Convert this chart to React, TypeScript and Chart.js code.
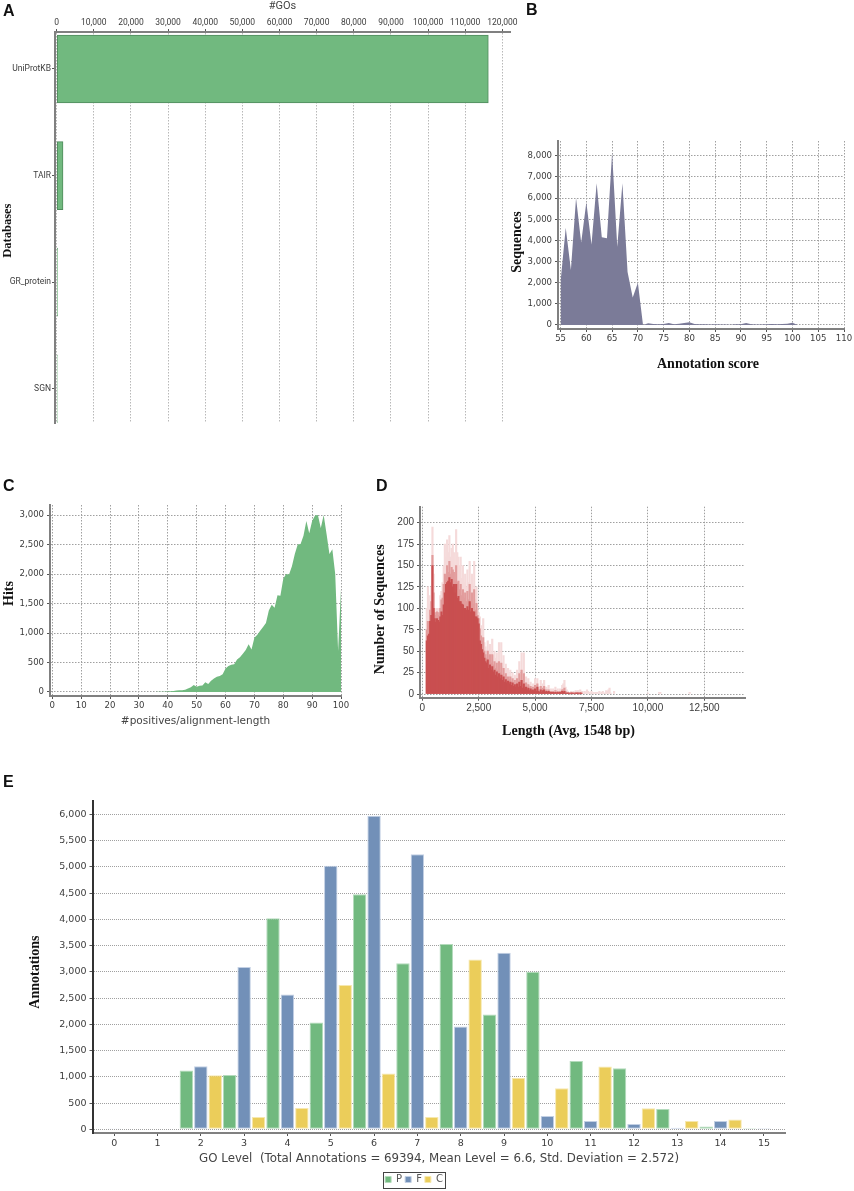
import { useEffect, useRef } from "react"
import { Chart, registerables } from "chart.js"

Chart.register(...registerables)

// Panel A
const databases = ["UniProtKB", "TAIR", "GR_protein", "SGN"]
const databaseGos = [116230, 1700, 220, 160]
const goTicks = [0, 10000, 20000, 30000, 40000, 50000, 60000, 70000, 80000, 90000, 100000, 110000, 120000]

// Panel B
const annotationScores = [55, 56, 57, 58, 59, 60, 61, 62, 63, 64, 65, 66, 67, 68, 69, 70, 71, 72, 73, 74, 75, 76, 77, 78, 79, 80, 81, 82, 83, 84, 85, 86, 87, 88, 89, 90, 91, 92, 93, 94, 95, 96, 97, 98, 99, 100, 101]
const scoreSequences = [2050, 4600, 2600, 6000, 3900, 5800, 3800, 6700, 4150, 4100, 8150, 3700, 6700, 2500, 1300, 2000, 0, 80, 50, 30, 50, 90, 30, 60, 90, 130, 50, 30, 30, 25, 30, 20, 20, 15, 30, 40, 90, 30, 20, 20, 30, 50, 30, 50, 60, 110, 0]
const scoreTicks = [55, 60, 65, 70, 75, 80, 85, 90, 95, 100, 105, 110]
const sequenceTicks = [0, 1000, 2000, 3000, 4000, 5000, 6000, 7000, 8000]

// Panel C
const positives = [36, 38, 40, 41, 42, 43, 44, 45, 46, 47, 48, 49, 50, 51, 52, 53, 54, 55, 56, 57, 58, 59, 60, 61, 62, 63, 64, 65, 66, 67, 68, 69, 70, 71, 72, 73, 74, 75, 76, 77, 78, 79, 80, 81, 82, 83, 84, 85, 86, 87, 88, 89, 90, 91, 92, 93, 94, 95, 96, 97, 98, 99, 100]
const hits = [2, 3, 8, 12, 15, 25, 30, 30, 40, 60, 80, 120, 90, 105, 110, 165, 135, 190, 230, 260, 270, 300, 400, 440, 460, 470, 550, 590, 650, 710, 810, 720, 920, 970, 1040, 1100, 1170, 1380, 1480, 1430, 1640, 1630, 1920, 2000, 1990, 2130, 2340, 2500, 2510, 2650, 2900, 2690, 2900, 2990, 3000, 2780, 3000, 2680, 2340, 2420, 2000, 700, 1750]
const positiveTicks = [0, 10, 20, 30, 40, 50, 60, 70, 80, 90, 100]
const hitTicks = [0, 500, 1000, 1500, 2000, 2500, 3000]

// Panel D: solid body, its fuzzy edge and the faint spikes above it
const lengthBins = [200, 250, 300, 350, 400, 450, 500, 550, 600, 650, 700, 750, 800, 850, 900, 950, 1000, 1050, 1100, 1150, 1200, 1250, 1300, 1350, 1400, 1450, 1500, 1550, 1600, 1650, 1700, 1750, 1800, 1850, 1900, 1950, 2000, 2050, 2100, 2150, 2200, 2250, 2300, 2350, 2400, 2450, 2500,
  2550, 2600, 2650, 2700, 2750, 2800, 2850, 2900, 2950, 3000, 3050, 3100, 3150, 3200, 3250, 3300, 3350, 3400, 3450, 3500, 3550, 3600, 3650, 3700, 3750, 3800, 3850, 3900, 3950, 4000, 4050, 4100, 4150, 4200, 4250, 4300, 4350, 4400, 4450, 4500, 4550, 4600, 4650, 4700, 4750, 4800, 4850, 4900, 4950, 5000,
  5050, 5100, 5150, 5200, 5250, 5300, 5350, 5400, 5450, 5500, 5550, 5600, 5650, 5700, 5750, 5800, 5850, 5900, 5950, 6000, 6050, 6100, 6150, 6200, 6250, 6300, 6350, 6400, 6450, 6500, 6550, 6600, 6650, 6700, 6750, 6800, 6850, 6900, 6950, 7000, 7050]
const lengthCore = [62, 68, 70, 85, 92, 150, 100, 88, 84, 88, 86, 84, 90, 96, 92, 104, 118, 128, 130, 132, 136, 130, 134, 125, 128, 118, 128, 112, 114, 108, 108, 105, 104, 100, 100, 98, 102, 98, 108, 96, 100, 96, 96, 90, 90, 88, 82,
  62, 58, 52, 48, 42, 38, 36, 40, 30, 34, 28, 32, 26, 28, 22, 26, 20, 24, 18, 22, 16, 20, 14, 17, 13, 15, 12, 14, 10, 13, 9, 11, 8, 12, 8, 14, 9, 16, 7, 12, 6, 8, 5, 7, 4, 6, 4, 5, 3, 6,
  3, 8, 3, 2, 5, 2, 4, 5, 2, 3, 2, 3, 2, 2, 1, 2, 1, 2, 1, 2, 1, 2, 1, 3, 2, 3, 1, 1, 1, 1, 0, 1, 1, 1, 0, 1, 1, 1, 0, 1, 1]
const lengthEdge = [75, 85, 80, 98, 108, 162, 118, 95, 92, 96, 92, 95, 100, 110, 112, 128, 140, 138, 150, 142, 155, 140, 148, 145, 142, 132, 150, 130, 132, 122, 128, 115, 122, 112, 118, 108, 120, 110, 128, 106, 118, 105, 122, 98, 106, 92, 88,
  76, 68, 62, 66, 50, 46, 42, 50, 38, 46, 36, 46, 34, 38, 30, 36, 28, 38, 25, 36, 22, 30, 20, 24, 19, 20, 17, 20, 14, 18, 13, 16, 12, 18, 12, 24, 14, 28, 10, 24, 9, 13, 8, 11, 6, 9, 6, 8, 5, 10,
  5, 12, 5, 3, 9, 3, 7, 9, 3, 5, 3, 5, 3, 3, 2, 3, 2, 4, 2, 3, 2, 3, 2, 5, 5, 7, 3, 2, 2, 1, 1, 2, 1, 1, 1, 2, 1, 2, 1, 2, 1]
const peakBins = [...lengthBins, 7100, 7150, 7200, 7250, 7300, 7350, 7400, 7450, 7500, 7550, 7600, 7650, 7700, 7750, 7800, 7850, 7900, 7950, 8000, 8050, 8100, 8150, 8200, 8250, 8300, 8350, 8500, 10000, 10500, 10550, 11850]
const lengthPeaks = [100, 125, 105, 115, 125, 195, 140, 100, 95, 100, 95, 100, 115, 120, 130, 150, 175, 160, 180, 165, 185, 160, 170, 175, 165, 150, 192, 165, 160, 150, 160, 135, 150, 130, 140, 125, 145, 130, 155, 125, 140, 120, 155, 110, 125, 100, 95,
  90, 80, 75, 88, 60, 55, 50, 62, 45, 58, 48, 64, 45, 50, 42, 48, 38, 60, 35, 60, 32, 45, 30, 35, 28, 30, 24, 28, 20, 25, 18, 22, 20, 28, 18, 38, 22, 48, 15, 48, 14, 20, 12, 18, 10, 14, 8, 12, 8, 18,
  10, 18, 8, 6, 16, 6, 12, 16, 6, 8, 6, 10, 5, 6, 4, 6, 4, 8, 4, 6, 3, 6, 4, 10, 12, 16, 8, 5, 3, 2, 2, 3, 2, 3, 2, 4, 3, 4, 2, 5, 3,
  3, 1, 3, 2, 5, 3, 2, 1, 3, 1, 2, 1, 2, 2, 1, 3, 1, 2, 3, 1, 1, 4, 3, 5, 7, 1, 3, 1, 2, 2, 2]
const lengthTicks = [0, 2500, 5000, 7500, 10000, 12500]
const countTicks = [0, 25, 50, 75, 100, 125, 150, 175, 200]

// Panel E
const goLevels = ["0", "1", "2", "3", "4", "5", "6", "7", "8", "9", "10", "11", "12", "13", "14", "15"]
const processAnnotations = [0, 0, 1120, 1035, 4020, 2035, 4475, 3165, 3530, 2185, 3000, 1300, 1165, 385, 55, 20]
const functionAnnotations = [8, 0, 1200, 3090, 2570, 5020, 5970, 5240, 1960, 3365, 255, 160, 100, 30, 160, 20]
const componentAnnotations = [0, 0, 1030, 235, 405, 2750, 1065, 235, 3235, 980, 780, 1195, 400, 160, 185, 10]
const annotationTicks = [0, 500, 1000, 1500, 2000, 2500, 3000, 3500, 4000, 4500, 5000, 5500, 6000]

const GREEN = "#71b97f"
const SLATE = "#7b7b98"
const RED = "#c94f50"
const BLUE = "#7290b8"
const YELLOW = "#ebcd5a"
const GRID = "#a0a0a0"
const AXIS = "#808080"
const TICK_TEXT = "#3c3c3c"
const SERIF = "Liberation Serif"
const CONDENSED = "'DejaVu Sans Condensed', Roboto"

const withCommas = (value: any) => Number(value).toLocaleString("en-US")

// fixed axis thickness, so the plot area lands where it does in the figure
const fitAxis = (size: number) => (scale: any) => {
  if (scale.isHorizontal()) scale.height = size
  else scale.width = size
  scale.paddingLeft = scale.paddingRight = scale.paddingTop = scale.paddingBottom = 0
}

const fixedTicks = (values: number[]) => (scale: any) => {
  scale.ticks = values.map((value) => ({ value }))
}

const serifTitle = (text: string, padding: object, size = 14) => ({
  display: true,
  text,
  color: "#111",
  font: { family: SERIF, size, weight: "bold" },
  padding,
})

const sansTitle = (text: string, size: number, padding: object, family = "DejaVu Sans") => ({
  display: true,
  text,
  color: "#444",
  font: { family, size },
  padding,
})

// one value axis with dotted grid, ticks from a list
const valueAxis = (o: any) => ({
  type: "linear",
  position: o.position,
  reverse: o.reverse ?? false,
  min: o.min,
  max: o.max,
  offset: false,
  afterBuildTicks: fixedTicks(o.ticks),
  afterFit: fitAxis(o.size),
  title: o.title,
  border: { display: true, color: o.borderColor ?? AXIS, width: 2, dash: o.dash ?? [1.5, 1.5] },
  grid: { display: true, offset: false, color: o.gridColor ?? GRID, drawOnChartArea: o.gridLines !== false, tickLength: 3, tickColor: "#555", tickBorderDash: [] },
  ticks: {
    autoSkip: false,
    maxRotation: 0,
    padding: o.tickPadding ?? 3,
    color: TICK_TEXT,
    font: o.font,
    callback: o.format ?? withCommas,
  },
})

const areaChart = (xs: number[], ys: number[], color: string, scales: any, padding: object): any => ({
  type: "line",
  data: {
    datasets: [
      {
        data: xs.map((x, i) => ({ x, y: ys[i] })),
        backgroundColor: color,
        borderWidth: 0,
        pointRadius: 0,
        fill: "origin",
        tension: 0,
      },
    ],
  },
  options: {
    responsive: false,
    animation: false,
    layout: { padding },
    plugins: { legend: { display: false }, tooltip: { enabled: false } },
    scales,
  },
})

const databaseChart: any = {
  type: "bar",
  data: {
    datasets: [
      {
        data: databaseGos.map((x, y) => ({ x, y })),
        backgroundColor: GREEN,
        borderColor: "#4f8a5c",
        borderWidth: 1,
        borderSkipped: false,
        barThickness: 68,
      },
    ],
  },
  options: {
    indexAxis: "y",
    responsive: false,
    animation: false,
    layout: { padding: { right: 20, bottom: 17 } },
    plugins: { legend: { display: false }, tooltip: { enabled: false } },
    scales: {
      x: valueAxis({
        position: "top",
        min: -458,
        max: 122070,
        ticks: goTicks,
        size: 32,
        tickPadding: 1,
        gridColor: "#b8b8b8",
        font: { family: "Roboto", size: 8.5 },
        title: sansTitle("#GOs", 11, { top: 0, bottom: 0 }, "Roboto"),
      }),
      y: valueAxis({
        position: "left",
        reverse: true,
        min: -0.347,
        max: 3.321,
        ticks: [0, 1, 2, 3],
        size: 55,
        gridLines: false,
        tickPadding: 1,
        font: { family: "Roboto", size: 8.5 },
        format: (value: any) => databases[value],
        title: serifTitle("Databases  ", { top: 0, bottom: 0 }, 12.5),
      }),
    },
  },
}

const scoreChart = areaChart(
  annotationScores,
  scoreSequences,
  SLATE,
  {
    x: valueAxis({
      position: "bottom",
      min: 54.5,
      max: 110,
      ticks: scoreTicks,
      size: 51,
      tickPadding: 1,
      font: { family: CONDENSED, size: 9.5 },
      format: (value: any) => String(value),
      title: serifTitle("    Annotation score", { top: 0, bottom: 7.6 }),
    }),
    y: valueAxis({
      position: "left",
      min: -190,
      max: 8694,
      ticks: sequenceTicks,
      size: 58,
      font: { family: CONDENSED, size: 9.5 },
      title: serifTitle("Sequences    ", { top: 8.6, bottom: 0 }),
    }),
  },
  { top: 11, right: 10 },
)

const positiveChart = areaChart(
  positives,
  hits,
  GREEN,
  {
    x: valueAxis({
      position: "bottom",
      min: -0.8,
      max: 100,
      ticks: positiveTicks,
      size: 39,
      tickPadding: 1,
      font: { family: CONDENSED, size: 9.5 },
      format: (value: any) => String(value),
      title: sansTitle("#positives/alignment-length", 10.5, { top: 0, bottom: 7.4 }),
    }),
    y: valueAxis({
      position: "left",
      min: -68,
      max: 3170,
      ticks: hitTicks,
      size: 50,
      font: { family: CONDENSED, size: 9.5 },
      title: serifTitle("    Hits", { top: 1, bottom: 0 }),
    }),
  },
  { top: 15, right: 19 },
)

const lengthChart: any = {
  type: "bar",
  data: {
    datasets: [
      {
        data: lengthBins.map((x, i) => ({ x, y: lengthCore[i] })),
        backgroundColor: RED,
        barThickness: 1.5,
        grouped: false,
        order: 1,
      },
      {
        data: lengthBins.map((x, i) => ({ x, y: lengthEdge[i] })),
        backgroundColor: "#e29c9c",
        barThickness: 1.5,
        grouped: false,
        order: 2,
      },
      {
        data: peakBins.map((x, i) => ({ x, y: lengthPeaks[i] })),
        backgroundColor: "#f5dada",
        barThickness: 1.5,
        grouped: false,
        order: 3,
      },
    ],
  },
  options: {
    responsive: false,
    animation: false,
    layout: { padding: { top: 16.7, right: 9 } },
    plugins: { legend: { display: false }, tooltip: { enabled: false } },
    scales: {
      x: valueAxis({
        position: "bottom",
        min: -102,
        max: 14304,
        ticks: lengthTicks,
        size: 47.3,
        tickPadding: 2,
        font: { family: "Liberation Sans", size: 10 },
        title: serifTitle("Length (Avg, 1548 bp)        ", { top: 0, bottom: 5.6 }),
      }),
      y: valueAxis({
        position: "left",
        min: -4.3,
        max: 218.7,
        ticks: countTicks,
        size: 50,
        font: { family: "Liberation Sans", size: 10 },
        title: serifTitle("Number of Sequences    ", { top: 2.3, bottom: 0 }),
      }),
    },
  },
}

// frame round the legend entries, the library has none
const legendFrame = {
  id: "legendFrame",
  afterDraw(chart: any) {
    const boxes = chart.legend?.legendHitBoxes
    if (!boxes?.length) return
    const last = boxes[boxes.length - 1]
    const left = boxes[0].left - 2
    const right = last.left + last.width + 2
    const top = chart.legend.top
    const { ctx } = chart
    ctx.save()
    ctx.strokeStyle = "#444"
    ctx.lineWidth = 1
    ctx.strokeRect(Math.round(left) + 0.5, Math.round(top) + 0.5, Math.round(right - left), 16)
    ctx.restore()
  },
}

const goBar = (label: string, data: number[], color: string, edge: string) => ({
  label,
  data,
  backgroundColor: color,
  borderColor: edge,
  borderWidth: 1,
  borderSkipped: false,
  categoryPercentage: 1,
  barPercentage: 0.93,
})

const goLevelChart: any = {
  type: "bar",
  data: {
    labels: goLevels,
    datasets: [
      goBar("P", processAnnotations, GREEN, "#b4dbbc"),
      goBar("F", functionAnnotations, BLUE, "#c3d0e4"),
      goBar("C", componentAnnotations, YELLOW, "#f6e8ae"),
    ],
  },
  plugins: [legendFrame],
  options: {
    responsive: false,
    animation: false,
    layout: { padding: { top: 15.7, left: 42.4, right: 42.4, bottom: 3 } },
    plugins: {
      tooltip: { enabled: false },
      legend: {
        position: "bottom",
        maxHeight: 16.5,
        labels: {
          boxWidth: 6,
          boxHeight: 6,
          padding: 3,
          color: "#555",
          font: { family: "DejaVu Sans", size: 10 },
        },
      },
    },
    scales: {
      x: {
        type: "category",
        afterFit: fitAxis(38.5),
        title: sansTitle("GO Level  (Total Annotations = 69394, Mean Level = 6.6, Std. Deviation = 2.572)", 11.8, { top: 0, bottom: 5 }),
        border: { display: true, color: AXIS, width: 2 },
        grid: { display: true, offset: false, drawOnChartArea: false, tickLength: 3, tickColor: "#555" },
        ticks: {
          autoSkip: false,
          maxRotation: 0,
          padding: 2,
          color: TICK_TEXT,
          font: { family: "DejaVu Sans", size: 9.5 },
        },
      },
      y: valueAxis({
        position: "left",
        min: -70,
        max: 6259,
        ticks: annotationTicks,
        size: 50.1,
        borderColor: "#333",
        dash: [1, 1],
        font: { family: "DejaVu Sans", size: 9.5 },
        title: serifTitle("Annotations   ", { top: -15.8, bottom: 0 }),
      }),
    },
  },
}

function ChartPanel({ config, left, top, width, height }: any) {
  const canvasRef = useRef<HTMLCanvasElement>(null)

  useEffect(() => {
    if (!canvasRef.current) return
    const chart = new Chart(canvasRef.current, config)
    return () => chart.destroy()
  }, [config])

  return <canvas ref={canvasRef} width={width} height={height} style={{ position: "absolute", left, top, display: "block" }} />
}

function PanelLetter({ letter, left, top }: { letter: string; left: number; top: number }) {
  return (
    <div style={{ position: "absolute", left, top, font: 'bold 16px "Liberation Sans"', lineHeight: "18px", color: "#111" }}>
      {letter}
    </div>
  )
}

export default function App() {
  return (
    <div style={{ position: "absolute", left: 0, top: 0, width: 854, height: 1191, background: "#fff", overflow: "hidden" }}>
      <ChartPanel config={databaseChart} left={0} top={0} width={530} height={440} />
      <ChartPanel config={scoreChart} left={500} top={130} width={354} height={250} />
      <ChartPanel config={positiveChart} left={0} top={490} width={360} height={245} />
      <ChartPanel config={lengthChart} left={370} top={490} width={384} height={255} />
      <ChartPanel config={goLevelChart} left={0} top={785} width={828} height={406} />
      <PanelLetter letter="A" left={3} top={2} />
      <PanelLetter letter="B" left={526} top={1} />
      <PanelLetter letter="C" left={3} top={477} />
      <PanelLetter letter="D" left={376} top={477} />
      <PanelLetter letter="E" left={3} top={773} />
    </div>
  )
}
